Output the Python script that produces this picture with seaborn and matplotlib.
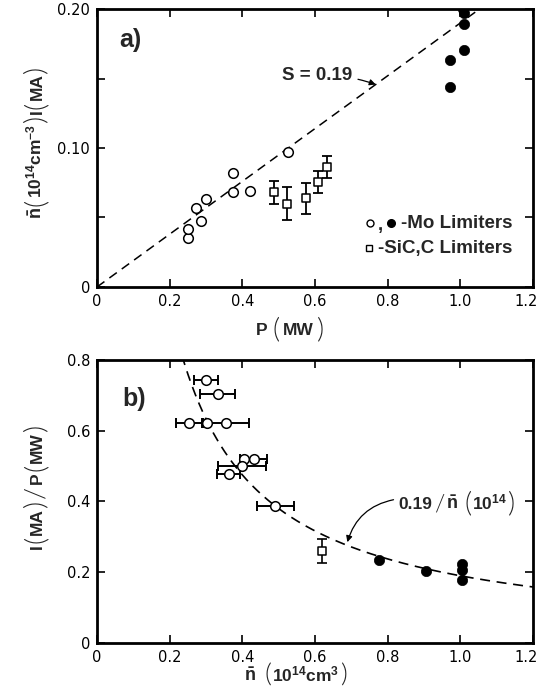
import numpy as np
import pandas as pd
import matplotlib
matplotlib.use("Agg")
import matplotlib.pyplot as plt
import matplotlib.transforms as mtransforms
import seaborn as sns

# ---------------- data: panel a ----------------
a_open_P = [0.249, 0.249, 0.272, 0.287, 0.300, 0.374, 0.374, 0.422, 0.526]
a_open_y = [0.0355, 0.0417, 0.0566, 0.0477, 0.063, 0.0817, 0.0685, 0.069, 0.0973]
a_sq_P = [0.486, 0.522, 0.576, 0.607, 0.633]
a_sq_y = [0.068, 0.060, 0.0638, 0.0753, 0.0863]
a_sq_err = [0.0085, 0.012, 0.011, 0.008, 0.008]
a_fill_P = [1.008, 1.010, 1.010, 1.010, 0.972, 0.972]
a_fill_y = [0.200, 0.197, 0.189, 0.1705, 0.163, 0.1436]
S = 0.19

# ---------------- data: panel b ----------------
b_open_n = [0.301, 0.332, 0.254, 0.304, 0.356, 0.404, 0.431, 0.399, 0.362, 0.491]
b_open_y = [0.744, 0.703, 0.622, 0.622, 0.622, 0.520, 0.520, 0.501, 0.478, 0.388]
b_open_xerr = [0.033, 0.048, 0.036, 0.0, 0.063, 0.0, 0.037, 0.065, 0.031, 0.050]
b_sq_n = [0.620]
b_sq_y = [0.260]
b_sq_err = [0.033]
b_fill_n = [0.776, 0.905, 1.004, 1.004, 1.004]
b_fill_y = [0.234, 0.204, 0.2225, 0.2056, 0.179]

a_xticks = [0, 0.2, 0.4, 0.6, 0.8, 1.0, 1.2]
a_xticklabels = ["0", "0.2", "0.4", "0.6", "0.8", "1.0", "1.2"]
a_yticks = [0, 0.05, 0.10, 0.15, 0.20]
a_yticklabels = ["0", "", "0.10", "", "0.20"]
b_yticks = [0, 0.2, 0.4, 0.6, 0.8]
b_yticklabels = ["0", "0.2", "0.4", "0.6", "0.8"]

sns.set_theme(style="ticks")
plt.rcParams["font.family"] = ["DejaVu Sans"]
plt.rcParams["mathtext.fontset"] = "custom"
plt.rcParams["mathtext.rm"] = "Liberation Sans"
plt.rcParams["mathtext.bf"] = "Liberation Sans:bold"
plt.rcParams["mathtext.it"] = "Liberation Sans:italic"

LAB = "Liberation Sans"
PAR = "Lato"

fig = plt.figure(figsize=(5.39, 6.94), dpi=100)
H = 694.0
axa = fig.add_axes([0.180, 0.5865, 0.809, 0.4005])
axb = fig.add_axes([0.180, 0.0735, 0.809, 0.4078])
renderer = fig.canvas.get_renderer()
ident = mtransforms.IdentityTransform()


def seq_label(pieces, cx, base, rotation=0):
    """Lay out text pieces one after another (pixel coords, origin bottom-left).
    pieces: (text, size, weight, family, perp_offset, gap_after)."""
    items = []
    for s, size, weight, fam, d, gap in pieces:
        t = fig.text(0, 0, s, fontsize=size, fontweight=weight, family=fam,
                     rotation=rotation, rotation_mode="anchor",
                     ha="left", va="baseline", transform=ident)
        bb = t.get_window_extent(renderer)
        w = bb.width if rotation == 0 else bb.height
        items.append((t, w, d, gap))
    total = sum(w + g for _, w, _, g in items) - items[-1][3]
    pos = cx - total / 2
    for t, w, d, gap in items:
        if rotation == 0:
            t.set_position((pos, base + d))
        else:
            t.set_position((base - d, pos))
        pos += w + gap


def style_axis(ax):
    for sp in ax.spines.values():
        sp.set_linewidth(2.0)
        sp.set_color("black")
        sp.set_visible(True)
    ax.tick_params(direction="in", length=6, width=1.2, top=True, right=True,
                   labelsize=10.5, colors="black", pad=5)
    ax.set_facecolor("white")
    lab = ax.get_xticklabels()[-1]
    lab.set_transform(lab.get_transform() +
                      mtransforms.ScaledTranslation(-5 / 72, 0, fig.dpi_scale_trans))

# ---------------- panel a ----------------
line_a = pd.DataFrame({"P": [0.0, 1.2], "y": [0.0, S * 1.2]})
sns.lineplot(data=line_a, x="P", y="y", ax=axa, color="black", lw=1.1,
             linestyle=(0, (6, 4)), zorder=1)
axa.errorbar(a_sq_P, a_sq_y, yerr=a_sq_err, fmt="none", ecolor="black",
             elinewidth=1.3, capsize=3.5, capthick=1.3, zorder=2)
sns.scatterplot(x=a_open_P, y=a_open_y, ax=axa, marker="o", s=48,
                facecolor="white", edgecolor="black", linewidth=1.1, zorder=3)
sns.scatterplot(x=a_sq_P, y=a_sq_y, ax=axa, marker="s", s=30,
                facecolor="white", edgecolor="black", linewidth=1.1, zorder=3)
sns.scatterplot(x=a_fill_P, y=a_fill_y, ax=axa, marker="o", s=55,
                color="black", edgecolor="black", linewidth=0.5, zorder=3)
axa.set_xlim(0, 1.2)
axa.set_ylim(0, 0.20)
axa.set_xticks(a_xticks)
axa.set_xticklabels(a_xticklabels)
axa.set_yticks(a_yticks)
axa.set_yticklabels(a_yticklabels)
style_axis(axa)
axa.set_xlabel("")
axa.set_ylabel("")
axa.text(0.062, 0.178, "a)", fontsize=18, fontweight="bold", family=LAB,
         ha="left", va="center")
axa.annotate("S = 0.19", xy=(0.767, 0.1457), xytext=(0.605, 0.152),
             fontsize=13.5, fontweight="bold", family=LAB, ha="center", va="center",
             arrowprops=dict(arrowstyle="-|>", color="black", lw=0.9,
                             connectionstyle="arc3,rad=-0.1", mutation_scale=9,
                             shrinkA=2, shrinkB=0))
# legend drawn as markers + text
axa.plot([0.626], [0.230], transform=axa.transAxes, marker="o", ms=5,
         mfc="white", mec="black", mew=1.0, ls="none", clip_on=False)
axa.text(0.649, 0.220, ",", transform=axa.transAxes, fontsize=13.5,
         fontweight="bold", family=LAB, ha="center", va="center")
axa.plot([0.674], [0.230], transform=axa.transAxes, marker="o", ms=5.5,
         color="black", ls="none", clip_on=False)
axa.text(0.952, 0.230, "-Mo Limiters", transform=axa.transAxes, fontsize=13.5,
         fontweight="bold", family=LAB, ha="right", va="center")
axa.plot([0.624], [0.140], transform=axa.transAxes, marker="s", ms=4.5,
         mfc="white", mec="black", mew=1.0, ls="none", clip_on=False)
axa.text(0.952, 0.140, "-SiC,C Limiters", transform=axa.transAxes, fontsize=13.5,
         fontweight="bold", family=LAB, ha="right", va="center")

# ---------------- panel b ----------------
n_curve = np.linspace(0.2, 1.2, 200)
line_b = pd.DataFrame({"n": n_curve, "y": S / n_curve})
sns.lineplot(data=line_b, x="n", y="y", ax=axb, color="black", lw=1.2,
             linestyle=(0, (6, 4)), zorder=1)
axb.errorbar(b_open_n, b_open_y, xerr=b_open_xerr, fmt="none", ecolor="black",
             elinewidth=1.4, capsize=3.5, capthick=1.4, zorder=2)
axb.errorbar(b_sq_n, b_sq_y, yerr=b_sq_err, fmt="none", ecolor="black",
             elinewidth=1.2, capsize=3.5, capthick=1.2, zorder=2)
sns.scatterplot(x=b_open_n, y=b_open_y, ax=axb, marker="o", s=48,
                facecolor="white", edgecolor="black", linewidth=1.1, zorder=3)
sns.scatterplot(x=b_sq_n, y=b_sq_y, ax=axb, marker="s", s=30,
                facecolor="white", edgecolor="black", linewidth=1.1, zorder=3)
sns.scatterplot(x=b_fill_n, y=b_fill_y, ax=axb, marker="o", s=55,
                color="black", edgecolor="black", linewidth=0.5, zorder=3)
axb.set_xlim(0, 1.2)
axb.set_ylim(0, 0.8)
axb.set_xticks(a_xticks)
axb.set_xticklabels(a_xticklabels)
axb.set_yticks(b_yticks)
axb.set_yticklabels(b_yticklabels)
style_axis(axb)
axb.set_xlabel("")
axb.set_ylabel("")
axb.text(0.07, 0.69, "b)", fontsize=18, fontweight="bold", family=LAB,
         ha="left", va="center")
axb.annotate("", xy=(0.689, 0.285), xytext=(0.816, 0.405),
             arrowprops=dict(arrowstyle="-|>", color="black", lw=0.9,
                             connectionstyle="arc3,rad=0.3", mutation_scale=9,
                             shrinkA=0, shrinkB=0))

# ---------------- composed labels (bold letters, tall thin parentheses) ----------------
L, P_ = 12.5, 20
seq_label([("P", L, "bold", LAB, 0, 5),
           ("(", P_, 300, PAR, -2, 3),
           ("MW", L, "bold", LAB, 0, 3),
           (")", P_, 300, PAR, -2, 0)],
          cx=290, base=H - 335)

seq_label([(r"$\mathbf{\bar{n}}$", L + 0.5, "bold", LAB, 0, 1),
           ("(", P_, 300, PAR, -2, 1),
           (r"$\mathbf{10^{14}cm^{-3}}$", L, "bold", LAB, 0, 1),
           (")", P_, 300, PAR, -2, 1),
           ("I", L, "bold", LAB, 0, 1),
           ("(", P_, 300, PAR, -2, 1),
           ("MA", L, "bold", LAB, 0, 1),
           (")", P_, 300, PAR, -2, 0)],
          cx=H - 142, base=41.5, rotation=90)

seq_label([(r"$\mathbf{\bar{n}}$", L + 0.5, "bold", LAB, 0, 8),
           ("(", 19, 300, PAR, -1.5, 1),
           (r"$\mathbf{10^{14}cm^{3}}$", L, "bold", LAB, 0, 1),
           (")", 19, 300, PAR, -1.5, 0)],
          cx=295.5, base=H - 681)

seq_label([("I", L, "bold", LAB, 0, 1),
           ("(", P_, 300, PAR, -2, 1),
           ("MA", L, "bold", LAB, 0, 1),
           (")", P_, 300, PAR, -2, 2),
           ("/", P_, 300, PAR, -2, 2),
           ("P", L, "bold", LAB, 0, 1),
           ("(", P_, 300, PAR, -2, 1),
           ("MW", L, "bold", LAB, 0, 1),
           (")", P_, 300, PAR, -2, 0)],
          cx=H - 486.5, base=41.5, rotation=90)

seq_label([("0.19", 12.5, "bold", LAB, 0, 2),
           ("/", 17, 300, PAR, -1, 2),
           (r"$\mathbf{\bar{n}}$", 13, "bold", LAB, 0, 6),
           ("(", 20, 300, PAR, -2, 1),
           (r"$\mathbf{10^{14}}$", 12.5, "bold", LAB, 0, 1),
           (")", 20, 300, PAR, -2, 0)],
          cx=456.7, base=H - 509)

fig.savefig("out.png", dpi=100, facecolor="white")
